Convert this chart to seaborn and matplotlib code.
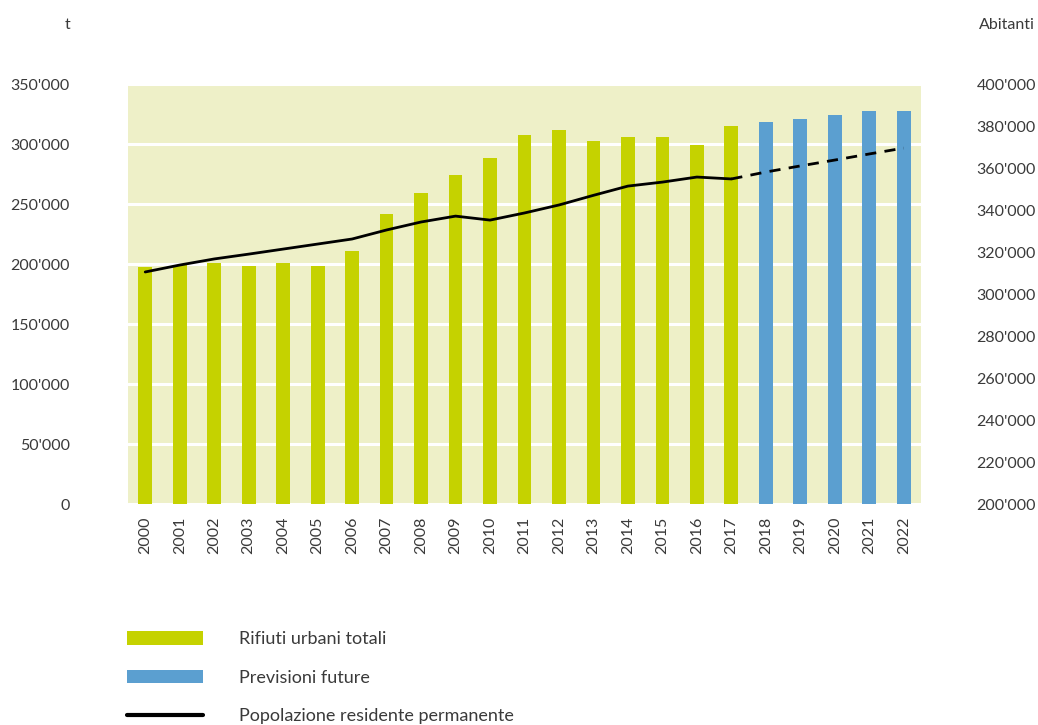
import numpy as np
import pandas as pd
from matplotlib import pyplot as plt
from matplotlib.patches import Patch
from matplotlib.lines import Line2D
from matplotlib.ticker import FuncFormatter
import seaborn as sns

# Data
years = [str(y) for y in range(2000, 2023)]
rifiuti = [197500, 199000, 200800, 198300, 200800, 198300, 210800, 241700, 259200,
           274200, 288300, 307500, 311700, 302500, 305800, 305800, 299200, 315000,
           318300, 320800, 324200, 327500, 327500]
tipo = ['Rifiuti urbani totali'] * 18 + ['Previsioni future'] * 5
popolazione = [310500, 313800, 316700, 319000, 321400, 323800, 326200, 330500, 334300,
               337100, 335200, 338600, 342400, 347000, 351400, 353300, 355700, 354800,
               358100, 361000, 363800, 366700, 369500]
last_actual = 2017

green = '#c5d200'
blue = '#5b9fd0'
bg = '#eef0c8'
txt = '#3a3a3a'

sns.set_style('white')
plt.rcParams['font.family'] = ['Lato', 'DejaVu Sans']

df = pd.DataFrame({'anno': years, 'rifiuti': rifiuti, 'tipo': tipo, 'pop': popolazione})
df['pos'] = np.arange(len(years))

fig = plt.figure(figsize=(10.38, 7.25), dpi=100)
ax = fig.add_axes([0.1233, 0.3048, 0.7640, 0.5793])
ax.set_facecolor(bg)

sns.barplot(data=df, x='anno', y='rifiuti', hue='tipo', dodge=False, width=0.4,
            palette={'Rifiuti urbani totali': green, 'Previsioni future': blue},
            saturation=1, legend=False, ax=ax, zorder=2, edgecolor='none', linewidth=0)

ax.set_xlim(-0.5, len(years) - 0.5)
ax.set_ylim(0, 350000)
ax.set_yticks(np.arange(0, 350001, 50000))
ax.grid(axis='y', color='white', linewidth=2.2, zorder=1)
ax.set_axisbelow(True)
for s in ax.spines.values():
    s.set_visible(False)

fmt = FuncFormatter(lambda v, p: "{:,.0f}".format(v).replace(',', "'"))
ax.yaxis.set_major_formatter(fmt)
ax.tick_params(axis='y', length=0, pad=42, labelsize=11.5, labelcolor=txt)
ax.tick_params(axis='x', length=0, pad=9, labelsize=11.5, labelcolor=txt, rotation=90)
ax.set_xlabel('')
ax.set_ylabel('')

# Population on second axis
ax2 = ax.twinx()
hist = df[df['anno'].astype(int) <= last_actual]
fut = df[df['anno'].astype(int) >= last_actual]
sns.lineplot(data=hist, x='pos', y='pop', color='black', linewidth=2, ax=ax2)
sns.lineplot(data=fut, x='pos', y='pop', color='black', linewidth=2, ax=ax2,
             linestyle=(0, (4, 3)))
ax2.set_ylim(200000, 400000)
ax2.set_yticks(np.arange(200000, 400001, 20000))
ax2.yaxis.set_major_formatter(fmt)
ax2.tick_params(axis='y', length=0, pad=40, labelsize=11.5, labelcolor=txt)
ax2.set_xlabel('')
ax2.set_ylabel('')
for s in ax2.spines.values():
    s.set_visible(False)
ax2.set_xlim(-0.5, len(years) - 0.5)

fig.text(68 / 1038, 1 - 25 / 725, 't', ha='center', va='center', fontsize=11.5, color=txt)
fig.text(1035 / 1038, 1 - 25 / 725, 'Abitanti', ha='right', va='center', fontsize=11.5, color=txt)

handles = [Patch(facecolor=green, edgecolor='none', label='Rifiuti urbani totali'),
           Patch(facecolor=blue, edgecolor='none', label='Previsioni future'),
           Line2D([0], [0], color='black', linewidth=3, label='Popolazione residente permanente')]
fig.legend(handles=handles, loc='upper left', bbox_to_anchor=(111 / 1038, 1 - 615 / 725),
           frameon=False, fontsize=13, handlelength=4.2, handleheight=0.75,
           handletextpad=2.0, labelspacing=1.25, labelcolor=txt)

plt.savefig('out.png', dpi=100)
